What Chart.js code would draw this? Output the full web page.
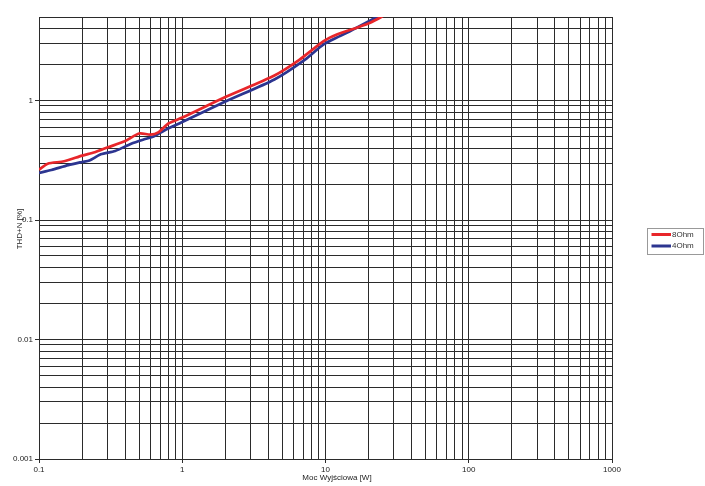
<!DOCTYPE html>
<html><head><meta charset="utf-8">
<script src="https://cdn.jsdelivr.net/npm/chart.js@4"></script>
<style>html,body{margin:0;padding:0;background:#fff}#c{display:block}</style>
</head><body>
<canvas id="c" width="705" height="486"></canvas>
<script>
const seriesNames = ['8Ohm', '4Ohm'];
const power8 = [0.1, 0.115, 0.15, 0.2, 0.245, 0.3, 0.4, 0.5, 0.6, 0.68, 0.8, 1.0, 2.0, 4.4, 6.6, 9.7, 12, 16.5, 20.5, 26];
const thd8   = [0.264, 0.296, 0.31, 0.346, 0.369, 0.404, 0.458, 0.529, 0.519, 0.542, 0.642, 0.72, 1.07, 1.62, 2.2, 3.14, 3.57, 4.07, 4.48, 5.2];
const power4 = [0.1, 0.122, 0.16, 0.2, 0.225, 0.27, 0.34, 0.44, 0.55, 0.63, 0.75, 1.0, 2.0, 4.4, 7.2, 9.7, 12.6, 16.5, 22.2, 24];
const thd4   = [0.248, 0.262, 0.288, 0.306, 0.315, 0.355, 0.378, 0.435, 0.476, 0.5, 0.562, 0.66, 0.98, 1.5, 2.2, 2.95, 3.46, 4.07, 4.93, 5.3];
const xTickLabels = ['0.1', '1', '10', '100', '1000'];
const yTickLabels = ['0.001', '0.01', '0.1', '1'];
const xTitle = 'Moc Wyjściowa [W]';
const yTitle = 'THD+N [%]';
const seriesColors = ['#e8262a', '#2c3590'];

const FONT = '"Liberation Sans", Arial, sans-serif';
const GRID = '#2b2b2b';

function gridValues(min, max) {
  const out = [];
  for (let d = min; d < max * 0.999; d *= 10) {
    for (let m = 1; m <= 9; m++) {
      const v = +(d * m).toPrecision(6);
      if (v <= max * 1.0001) out.push(v);
    }
  }
  if (out[out.length - 1] < max * 0.9999) out.push(max);
  return out;
}
function isLabel(v, labels) {
  return labels.some(l => Math.abs(parseFloat(l) - v) / v < 1e-6);
}
function labelFor(v, labels) {
  const l = labels.find(l => Math.abs(parseFloat(l) - v) / v < 1e-6);
  return l === undefined ? '' : l;
}
const xMin = parseFloat(xTickLabels[0]), xMax = parseFloat(xTickLabels[xTickLabels.length - 1]);
const yMin = parseFloat(yTickLabels[0]), yMax = 5;

const toPts = (xs, ys) => xs.map((x, i) => ({x: x, y: ys[i]}));

const extras = {
  id: 'extras',
  afterDraw(chart) {
    const ctx = chart.ctx;
    ctx.save();
    ctx.fillStyle = '#222';
    ctx.font = '8px ' + FONT;
    ctx.textAlign = 'center';
    ctx.textBaseline = 'middle';
    ctx.fillText(xTitle, 337, 478);
    ctx.save();
    ctx.translate(20, 229);
    ctx.rotate(-Math.PI / 2);
    ctx.fillText(yTitle, 0, 0);
    ctx.restore();
    // legend
    ctx.strokeStyle = '#999';
    ctx.lineWidth = 1;
    ctx.strokeRect(647.5, 228.5, 56, 26);
    chart.data.datasets.forEach((ds, i) => {
      const y = 234.5 + i * 11.5;
      ctx.strokeStyle = ds.borderColor;
      ctx.lineWidth = 3;
      ctx.beginPath();
      ctx.moveTo(651.5, y);
      ctx.lineTo(671, y);
      ctx.stroke();
      ctx.fillStyle = '#333';
      ctx.textAlign = 'left';
      ctx.fillText(ds.label, 672, y);
    });
    ctx.restore();
  }
};

new Chart(document.getElementById('c'), {
  type: 'line',
  data: {
    datasets: [
      {label: seriesNames[0], data: toPts(power8, thd8), borderColor: seriesColors[0], backgroundColor: seriesColors[0], borderWidth: 2.7, pointRadius: 0, tension: 0.25, clip: 0},
      {label: seriesNames[1], data: toPts(power4, thd4), borderColor: seriesColors[1], backgroundColor: seriesColors[1], borderWidth: 2.7, pointRadius: 0, tension: 0.25, clip: 0}
    ]
  },
  options: {
    responsive: false,
    devicePixelRatio: 1,
    animation: false,
    layout: {padding: {left: 0, top: 17, right: 93, bottom: 0}},
    plugins: {legend: {display: false}, tooltip: {enabled: false}},
    scales: {
      x: {
        type: 'logarithmic', min: xMin, max: xMax,
        afterBuildTicks: s => { s.ticks = gridValues(xMin, xMax).map(v => ({value: v})); },
        afterFit: s => { s.height = 27; },
        ticks: {autoSkip: false, maxRotation: 0, padding: 2, color: '#222', font: {family: FONT, size: 8},
          callback: v => labelFor(v, xTickLabels)},
        grid: {color: GRID, lineWidth: 1, drawTicks: true, tickLength: 4,
          tickColor: c => (c.tick && isLabel(c.tick.value, xTickLabels)) ? GRID : 'rgba(0,0,0,0)'},
        border: {display: true, color: GRID, width: 1}
      },
      y: {
        type: 'logarithmic', min: yMin, max: yMax,
        afterBuildTicks: s => { s.ticks = gridValues(yMin, yMax).map(v => ({value: v})); },
        afterFit: s => { s.width = 39; },
        ticks: {autoSkip: false, padding: 2, color: '#222', font: {family: FONT, size: 8},
          callback: v => labelFor(v, yTickLabels)},
        grid: {color: GRID, lineWidth: 1, drawTicks: true, tickLength: 4,
          tickColor: c => (c.tick && isLabel(c.tick.value, yTickLabels)) ? GRID : 'rgba(0,0,0,0)'},
        border: {display: true, color: GRID, width: 1}
      }
    }
  },
  plugins: [extras]
});
</script>
</body></html>
